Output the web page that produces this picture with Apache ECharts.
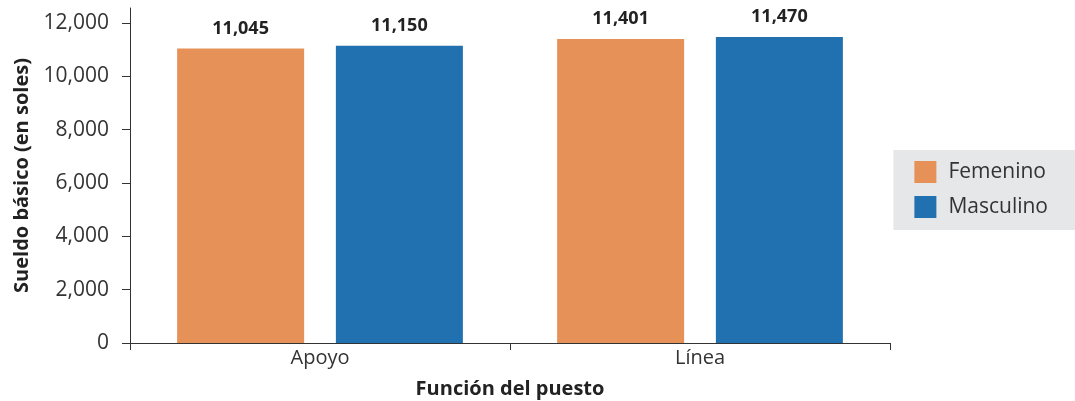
<!DOCTYPE html>
<html>
<head>
<meta charset="utf-8">
<script src="https://cdn.jsdelivr.net/npm/echarts@6/dist/echarts.min.js"></script>
<style>
  html, body { margin: 0; padding: 0; background: #fff; }
  #chart { width: 1075px; height: 401px; }
</style>
</head>
<body>
<div id="chart"></div>
<script>
const categories = ['Apoyo', 'Línea'];
const femenino = [11045, 11401];
const masculino = [11150, 11470];
const yTicks = [0, 2000, 4000, 6000, 8000, 10000, 12000];

const chart = echarts.init(document.getElementById('chart'));
const font = '"Open Sans", Lato, sans-serif';

const labelStyle = {
  show: true,
  position: 'top',
  distance: 11,
  color: '#222',
  fontWeight: 'bold',
  fontSize: 18,
  fontFamily: font,
  formatter: p => p.value.toLocaleString('en-US')
};

chart.setOption({
  animation: false,
  textStyle: { fontFamily: font },
  grid: { left: 130, right: 185, top: 8, bottom: 58, outerBoundsMode: 'none', containLabel: false },
  legend: {
    orient: 'vertical',
    right: 0,
    top: 150,
    backgroundColor: '#e6e7e8',
    padding: [11, 27, 12, 21],
    itemWidth: 22,
    itemHeight: 22,
    itemGap: 13,
    icon: 'rect',
    textStyle: { fontSize: 21, color: '#333', fontFamily: font, padding: [0, 0, 0, 7] },
    data: ['Femenino', 'Masculino']
  },
  xAxis: {
    type: 'category',
    data: categories,
    name: 'Función del puesto',
    nameLocation: 'middle',
    nameGap: 36,
    nameTextStyle: { fontWeight: 'bold', fontSize: 20, color: '#222', fontFamily: font },
    axisLine: { lineStyle: { color: '#333', width: 1 } },
    axisTick: { show: true, length: 7, lineStyle: { color: '#333' } },
    axisLabel: { fontSize: 20, color: '#333', margin: 5, fontFamily: font }
  },
  yAxis: {
    type: 'value',
    min: 0,
    max: 12562,
    interval: 2000,
    name: 'Sueldo básico (en soles)',
    nameLocation: 'middle',
    nameGap: 97,
    nameRotate: 90,
    nameTextStyle: { fontWeight: 'bold', fontSize: 20, color: '#222', fontFamily: font },
    axisLine: { show: true, lineStyle: { color: '#333', width: 1 } },
    axisTick: { show: true, length: 8, customValues: yTicks, lineStyle: { color: '#333' } },
    axisLabel: {
      fontSize: 21, color: '#333', margin: 21, fontFamily: font,
      customValues: yTicks,
      formatter: v => v.toLocaleString('en-US')
    },
    splitLine: { show: false }
  },
  series: [
    {
      name: 'Femenino',
      type: 'bar',
      data: femenino,
      barWidth: 127,
      barGap: '25%',
      itemStyle: { color: '#e69157' },
      label: labelStyle
    },
    {
      name: 'Masculino',
      type: 'bar',
      data: masculino,
      barWidth: 127,
      itemStyle: { color: '#2171b0' },
      label: labelStyle
    }
  ]
});
</script>
</body>
</html>
